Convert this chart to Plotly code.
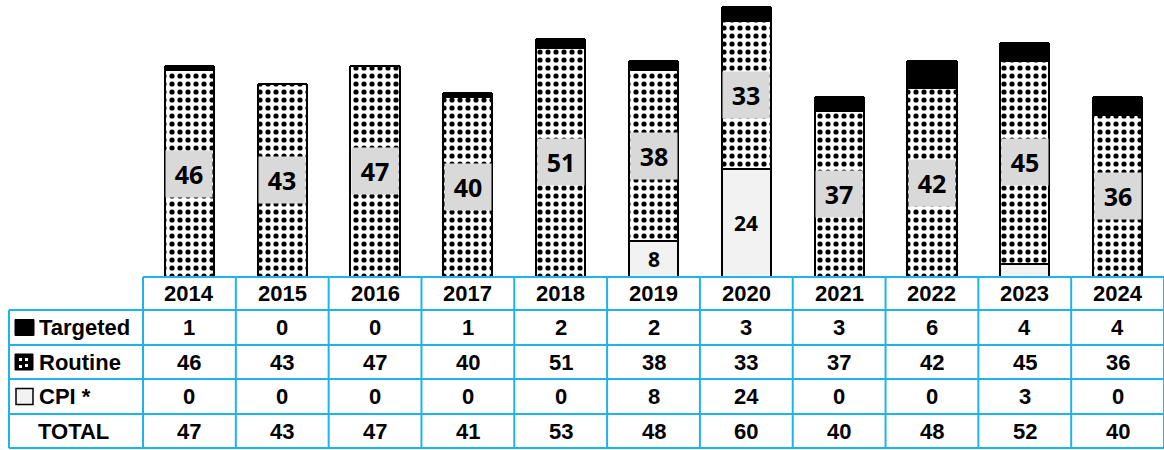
import plotly.graph_objects as go

years = ["2014", "2015", "2016", "2017", "2018", "2019", "2020", "2021", "2022", "2023", "2024"]
targeted = [1, 0, 0, 1, 2, 2, 3, 3, 6, 4, 4]
routine = [46, 43, 47, 40, 51, 38, 33, 37, 42, 45, 36]
cpi = [0, 0, 0, 0, 0, 8, 24, 0, 0, 3, 0]
row_labels = ["Targeted", "Routine", "CPI *", "TOTAL"]
totals = [t + r + c for t, r, c in zip(targeted, routine, cpi)]

W, H = 1164, 450
TAB_L, COL0, TAB_R = 9, 143, 1164
BASE = 277
PXU = 4.5
n = len(years)
COLW = (TAB_R - COL0) / n
X0 = -0.5 - COL0 / COLW


def xpx(p):
    return X0 + p / COLW


def ypx(p):
    return (BASE - p) / PXU


x = list(range(n))
BLUE = "#1fb3ec"
FONT = "Liberation Sans, Arial, sans-serif"
LBLFONT = "Open Sans, Noto Sans, sans-serif"

fig = go.Figure()
fig.add_bar(x=x, y=cpi, width=0.53, marker=dict(color="#f2f2f2", line=dict(color="black", width=2)),
            showlegend=False, hoverinfo="skip")
fig.add_bar(x=x, y=routine, width=0.53,
            marker=dict(color="white", line=dict(color="black", width=2),
                        pattern=dict(shape=".", fgcolor="black", bgcolor="white", fgopacity=1,
                                     size=8, solidity=0.33, fillmode="replace")),
            showlegend=False, hoverinfo="skip")
fig.add_bar(x=x, y=targeted, width=0.53, marker=dict(color="black", line=dict(color="black", width=2)),
            showlegend=False, hoverinfo="skip")

ann = []
shapes = []
# bar labels
for i in range(n):
    ann.append(dict(x=i, y=cpi[i] + routine[i] / 2, text=f"<b>{routine[i]}</b>", showarrow=False,
                    font=dict(family=LBLFONT, size=25, color="black"), bgcolor="#d9d9d9",
                    width=44, height=44, xref="x", yref="y"))
    if cpi[i] >= 5:
        ann.append(dict(x=i, y=cpi[i] / 2, text=f"<b>{cpi[i]}</b>", showarrow=False,
                        font=dict(family=LBLFONT, size=21, color="black"), xref="x", yref="y"))

# table grid
row_edges = [277, 310, 345, 379, 414, 448]
line = dict(color=BLUE, width=2)
shapes.append(dict(type="line", x0=xpx(COL0), x1=xpx(TAB_R), y0=ypx(row_edges[0]), y1=ypx(row_edges[0]), line=line))
for r in row_edges[1:]:
    shapes.append(dict(type="line", x0=xpx(TAB_L), x1=xpx(TAB_R), y0=ypx(r), y1=ypx(r), line=line))
shapes.append(dict(type="line", x0=xpx(TAB_L), x1=xpx(TAB_L), y0=ypx(row_edges[1]), y1=ypx(row_edges[-1]), line=line))
for k in range(n + 1):
    xx = -0.5 + k
    shapes.append(dict(type="line", x0=xx, x1=xx, y0=ypx(row_edges[0]), y1=ypx(row_edges[-1]), line=line))

tfont = dict(family=FONT, size=22, color="black")
for i in range(n):
    ann.append(dict(x=i, y=ypx((row_edges[0] + row_edges[1]) / 2), text=f"<b>{years[i]}</b>", showarrow=False, font=tfont))
rows_vals = [targeted, routine, cpi, totals]
for r, vals in enumerate(rows_vals):
    yc = ypx((row_edges[r + 1] + row_edges[r + 2]) / 2)
    for i in range(n):
        ann.append(dict(x=i, y=yc, text=f"<b>{vals[i]}</b>", showarrow=False, font=tfont))
    lx = 37 if r < 3 else 36
    ann.append(dict(x=xpx(lx), y=yc, text=f"<b>{row_labels[r]}</b>", showarrow=False, font=tfont,
                    xanchor="left"))

# legend icons in label column
def yc_row(r):
    return (row_edges[r + 1] + row_edges[r + 2]) / 2

c = yc_row(0)
shapes.append(dict(type="rect", x0=xpx(15), x1=xpx(34), y0=ypx(c - 8), y1=ypx(c + 8),
                   fillcolor="black", line=dict(color="black", width=1)))
c = yc_row(1)
shapes.append(dict(type="rect", x0=xpx(15), x1=xpx(33), y0=ypx(c - 8), y1=ypx(c + 8),
                   fillcolor="black", line=dict(color="black", width=1)))
for (dx, dy) in [(4, -4), (10, 2), (4, 3), (10, -4)]:
    shapes.append(dict(type="rect", x0=xpx(15 + dx), x1=xpx(15 + dx + 3), y0=ypx(c + dy), y1=ypx(c + dy + 3),
                       fillcolor="white", line=dict(width=0)))
c = yc_row(2)
shapes.append(dict(type="rect", x0=xpx(16), x1=xpx(33), y0=ypx(c - 8), y1=ypx(c + 8),
                   fillcolor="#f2f2f2", line=dict(color="black", width=1.5)))

fig.update_layout(
    width=W, height=H, autosize=False,
    margin=dict(l=0, r=0, t=0, b=0),
    paper_bgcolor="white", plot_bgcolor="white",
    barmode="stack", bargap=0, barcornerradius=2,
    xaxis=dict(range=[X0, n - 0.5], visible=False, fixedrange=True),
    yaxis=dict(range=[ypx(H), ypx(0)], visible=False, fixedrange=True),
    annotations=ann, shapes=shapes,
)
fig.write_html("out.html", config={"displayModeBar": False},
               post_script="document.body.style.margin='0';document.body.style.padding='0';document.body.style.overflow='hidden';")
